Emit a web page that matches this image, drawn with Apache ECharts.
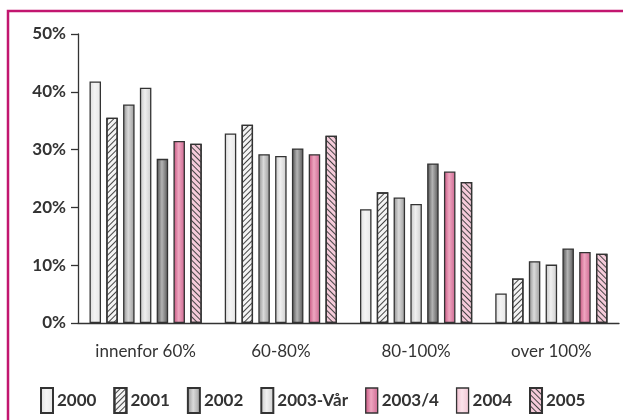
<!DOCTYPE html>
<html><head><meta charset="utf-8">
<script src="https://cdn.jsdelivr.net/npm/echarts@6/dist/echarts.min.js"></script>
<style>html,body{margin:0;padding:0;background:#fff}#c{width:623px;height:420px}</style>
</head><body><div id="c"></div>
<script>
var categories = ['innenfor 60%', '60-80%', '80-100%', 'over 100%'];
var seriesNames = ['2000', '2001', '2002', '2003-Vår', '2003/4', '2004', '2005'];
var s2000 = [41.8, 32.8, 19.7, 5.1];
var s2001 = [35.5, 34.3, 22.6, 7.7];
var s2002 = [37.8, 29.2, 21.7, 10.7];
var s2003v = [40.7, 28.9, 20.6, 10.1];
var s2003_4 = [28.4, 30.2, 27.6, 12.9];
var s2004 = [31.5, 29.2, 26.2, 12.3];
var s2005 = [31.0, 32.4, 24.4, 12.0];
var yTicks = [0, 10, 20, 30, 40, 50];

function grad(c0, c1, c2) {
  return new echarts.graphic.LinearGradient(0, 0, 1, 0, [
    {offset: 0, color: c0}, {offset: 0.45, color: c1}, {offset: 1, color: c2}
  ]);
}
var hatchA = {symbol: 'rect', symbolSize: 1, dashArrayX: [[1, 0]], dashArrayY: [0.8, 2.6], rotation: -Math.PI / 4, color: '#444'};
var hatchB = {symbol: 'rect', symbolSize: 1, dashArrayX: [[1, 0]], dashArrayY: [0.8, 2.6], rotation: Math.PI / 4, color: '#444'};

var styles = [
  {color: grad('#dedede', '#f4f4f4', '#e6e6e6')},
  {color: '#f4f4f4', decal: hatchA},
  {color: grad('#8c8c8c', '#dadada', '#999999')},
  {color: grad('#c6c6c6', '#f0f0f0', '#cccccc')},
  {color: grad('#4a4a4a', '#b4b4b4', '#555555')},
  {color: grad('#c4507c', '#eea6c0', '#cc6690')},
  {color: '#f5cbda', decal: hatchB}
];
var legendStyles = [
  null, null, null, null,
  {color: grad('#c4507c', '#eea6c0', '#cc6690')},
  {color: grad('#efbccd', '#fbe2ea', '#f1c4d3')},
  null
];
var dataArr = [s2000, s2001, s2002, s2003v, s2003_4, s2004, s2005];

var series = seriesNames.map(function (n, i) {
  var st = Object.assign({borderColor: '#333', borderWidth: 1.3}, styles[i]);
  return {
    name: n, type: 'bar', data: dataArr[i],
    barWidth: 11.5, barGap: '46%',
    itemStyle: st
  };
});

var legendData = seriesNames.map(function (n, i) {
  var o = {name: n};
  if (legendStyles[i]) o.itemStyle = Object.assign({borderColor: '#333', borderWidth: 1.3}, legendStyles[i]);
  return o;
});

var chart = echarts.init(document.getElementById('c'), null, {renderer: 'canvas'});
chart.setOption({
  animation: false,
  backgroundColor: '#fff',
  graphic: [{
    type: 'rect', shape: {x: 8, y: 11, width: 700, height: 500},
    style: {fill: 'none', stroke: '#c2166f', lineWidth: 2.5}, silent: true, z: 100
  }],
  grid: {left: 78, right: 4, top: 34, bottom: 97},
  legend: {
    data: legendData, left: 35, top: 382, itemWidth: 12, itemHeight: 25, itemGap: 17,
    icon: 'rect',
    textStyle: {fontFamily: 'Lato', fontSize: 17, fontWeight: 'bold', color: '#333', padding: [0, 0, 0, -1]}
  },
  xAxis: {
    type: 'category', data: categories,
    axisLine: {lineStyle: {color: '#333', width: 1.3}},
    axisTick: {length: 8, lineStyle: {color: '#333', width: 1.3}},
    axisLabel: {interval: 0, fontFamily: 'Lato', fontSize: 17, color: '#333', margin: 20}
  },
  yAxis: {
    type: 'value', min: 0, max: 50, interval: 10,
    axisLine: {show: true, lineStyle: {color: '#333', width: 1.3}},
    axisTick: {show: true, length: 7, lineStyle: {color: '#333', width: 1.3}},
    splitLine: {show: false},
    axisLabel: {fontFamily: 'Lato', fontSize: 17, fontWeight: 'bold', color: '#333', margin: 12,
      formatter: function (v) { return yTicks.indexOf(v) >= 0 ? v + '%' : ''; }}
  },
  series: series
});
</script></body></html>
